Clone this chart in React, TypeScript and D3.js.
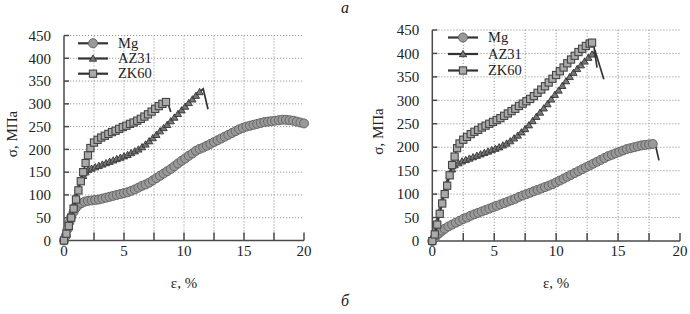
import React from "react";
import * as d3 from "d3";

type P = [number, number];

const xTicks = [0, 5, 10, 15, 20];
const xMinorTicks = [2.5, 5, 7.5, 10, 12.5, 15, 17.5, 20];
const yTicks = [0, 50, 100, 150, 200, 250, 300, 350, 400, 450];
const seriesNames = ["Mg", "AZ31", "ZK60"];

// Panel a
const mgA: P[] = [
  [0, 0], [0.15, 10], [0.3, 25], [0.45, 40], [0.6, 52], [0.8, 63], [1.0, 72], [1.2, 78], [1.45, 82], [1.7, 85],
  [2.0, 87], [2.3, 88], [2.6, 89], [2.9, 90], [3.2, 92], [3.5, 94], [3.8, 96], [4.1, 98], [4.4, 100], [4.7, 102],
  [5.0, 104], [5.3, 106], [5.6, 109], [5.9, 112], [6.2, 116], [6.5, 120], [6.8, 123], [7.1, 127], [7.4, 132], [7.7, 137],
  [8.0, 142], [8.3, 147], [8.6, 152], [8.9, 157], [9.2, 163], [9.5, 169], [9.8, 175], [10.1, 180], [10.4, 186], [10.7, 191],
  [11.0, 197], [11.3, 201], [11.6, 204], [11.9, 208], [12.2, 212], [12.5, 216], [12.8, 220], [13.1, 224], [13.4, 228], [13.7, 232],
  [14.0, 236], [14.3, 240], [14.6, 244], [14.9, 247], [15.2, 250], [15.5, 252], [15.8, 254], [16.1, 256], [16.4, 258], [16.7, 260],
  [17.0, 261], [17.3, 262], [17.6, 263], [17.9, 264], [18.2, 265], [18.5, 265], [18.8, 264], [19.1, 263], [19.4, 261], [19.7, 259],
  [20.0, 257],
];
const mgATail: P[] = [];
const az31A: P[] = [
  [0, 0], [0.2, 18], [0.4, 38], [0.6, 58], [0.8, 78], [1.0, 98], [1.2, 115], [1.4, 130], [1.6, 142], [1.8, 150],
  [2.0, 155], [2.3, 158], [2.6, 161], [2.9, 164], [3.2, 167], [3.5, 170], [3.8, 173], [4.1, 176], [4.4, 179], [4.7, 182],
  [5.0, 185], [5.3, 188], [5.6, 192], [5.9, 196], [6.2, 200], [6.5, 205], [6.8, 211], [7.1, 218], [7.4, 225], [7.7, 232],
  [8.0, 240], [8.3, 247], [8.6, 254], [8.9, 262], [9.2, 270], [9.5, 278], [9.8, 286], [10.1, 294], [10.4, 302], [10.7, 310],
  [11.0, 318], [11.3, 326],
];
const az31ATail: P[] = [[11.6, 333], [12.0, 288]];
const zk60A: P[] = [
  [0, 0], [0.2, 15], [0.4, 32], [0.6, 50], [0.8, 70], [1.0, 90], [1.2, 110], [1.4, 130], [1.6, 150], [1.8, 170],
  [2.0, 187], [2.2, 203], [2.5, 215], [2.8, 221], [3.1, 226], [3.4, 230], [3.7, 234], [4.0, 238], [4.3, 241], [4.6, 245],
  [4.9, 249], [5.2, 252], [5.5, 256], [5.8, 259], [6.1, 263], [6.4, 267], [6.7, 272], [7.0, 277], [7.3, 283], [7.6, 289],
  [7.9, 295], [8.2, 300], [8.5, 304],
];
const zk60ATail: P[] = [[8.6, 306], [8.9, 282]];

// Panel b
const mgB: P[] = [
  [0, 0], [0.2, 7], [0.4, 13], [0.6, 18], [0.8, 22], [1.0, 26], [1.3, 31], [1.6, 35], [1.9, 39], [2.2, 43],
  [2.5, 47], [2.8, 50], [3.1, 54], [3.4, 57], [3.7, 60], [4.0, 63], [4.3, 66], [4.6, 69], [4.9, 72], [5.2, 75],
  [5.5, 78], [5.8, 81], [6.1, 84], [6.4, 87], [6.7, 90], [7.0, 94], [7.3, 97], [7.6, 100], [7.9, 103], [8.2, 106],
  [8.5, 109], [8.8, 112], [9.1, 115], [9.4, 118], [9.7, 121], [10.0, 125], [10.3, 129], [10.6, 133], [10.9, 137], [11.2, 141],
  [11.5, 145], [11.8, 149], [12.1, 153], [12.4, 157], [12.7, 161], [13.0, 165], [13.3, 169], [13.6, 173], [13.9, 177], [14.2, 181],
  [14.5, 184], [14.8, 187], [15.1, 190], [15.4, 193], [15.7, 196], [16.0, 198], [16.3, 200], [16.6, 202], [16.9, 204], [17.2, 205],
  [17.5, 206], [17.8, 207],
];
const mgBTail: P[] = [[18.0, 207], [18.3, 172]];
const az31B: P[] = [
  [0, 0], [0.2, 20], [0.4, 42], [0.6, 64], [0.8, 86], [1.0, 106], [1.2, 124], [1.4, 140], [1.6, 153], [1.8, 162],
  [2.1, 166], [2.4, 170], [2.7, 173], [3.0, 176], [3.3, 179], [3.6, 182], [3.9, 185], [4.2, 188], [4.5, 191], [4.8, 194],
  [5.1, 197], [5.4, 200], [5.7, 204], [6.0, 208], [6.3, 213], [6.6, 219], [6.9, 225], [7.2, 232], [7.5, 239], [7.8, 247],
  [8.1, 256], [8.4, 265], [8.7, 274], [9.0, 283], [9.3, 292], [9.6, 302], [9.9, 312], [10.2, 321], [10.5, 331], [10.8, 341],
  [11.1, 350], [11.4, 359], [11.7, 367], [12.0, 375], [12.3, 383], [12.6, 391], [12.9, 398],
];
const az31BTail: P[] = [[13.15, 405], [13.85, 345]];
const zk60B: P[] = [
  [0, 0], [0.2, 14], [0.4, 35], [0.6, 58], [0.8, 80], [1.0, 100], [1.2, 118], [1.4, 140], [1.6, 162], [1.8, 180],
  [2.0, 198], [2.2, 208], [2.5, 216], [2.8, 222], [3.1, 228], [3.4, 233], [3.7, 237], [4.0, 242], [4.3, 246], [4.6, 250],
  [4.9, 254], [5.2, 258], [5.5, 262], [5.8, 267], [6.1, 272], [6.4, 277], [6.7, 282], [7.0, 288], [7.3, 293], [7.6, 298],
  [7.9, 303], [8.2, 309], [8.5, 316], [8.8, 323], [9.1, 330], [9.4, 338], [9.7, 346], [10.0, 354], [10.3, 362], [10.6, 370],
  [10.9, 379], [11.2, 387], [11.5, 395], [11.8, 403], [12.1, 410], [12.4, 416], [12.7, 421], [12.9, 423],
];
const zk60BTail: P[] = [[13.0, 424], [13.3, 370]];

const LINE = "#333";
const AXIS = "#4a4a4a";
const GRID = "#9a9a9a";
const TEXT = "#222";
const FONT = "'Liberation Serif', 'Times New Roman', 'DejaVu Serif', serif";

type PanelProps = {
  x0: number; x1: number; y0: number; y1: number;
  legendX: number; legendYs: number[];
  yLabelX: number;
  series: { pts: P[]; tail: P[]; kind: string }[];
};

function Marker({ kind, cx, cy }: { kind: string; cx: number; cy: number }) {
  if (kind === "circle") {
    return <circle cx={cx} cy={cy} r={4.5} fill="#999" stroke="#666" strokeWidth={1} />;
  }
  if (kind === "square") {
    return <rect x={cx - 3.6} y={cy - 3.6} width={7.2} height={7.2} fill="#aaa" stroke="#444" strokeWidth={1.1} />;
  }
  const s = 3.6;
  return (
    <path
      d={`M${cx},${cy - s} L${cx + s},${cy + s * 0.75} L${cx - s},${cy + s * 0.75} Z`}
      fill="#777"
      stroke="#333"
      strokeWidth={0.9}
    />
  );
}

function Panel(p: PanelProps) {
  const x = d3.scaleLinear().domain([0, 20]).range([p.x0, p.x1]);
  const y = d3.scaleLinear().domain([0, 450]).range([p.y0, p.y1]);
  const line = d3.line<P>().x((d) => x(d[0])).y((d) => y(d[1]));
  const xGrid = xMinorTicks.filter((v) => v < 20);
  const yGrid = yTicks.filter((v) => v > 0);
  return (
    <g>
      {xGrid.map((v) => (
        <line key={"gx" + v} x1={x(v)} x2={x(v)} y1={y(0)} y2={y(450)} stroke={GRID} strokeWidth={1} strokeDasharray="1.2,1.8" />
      ))}
      {yGrid.map((v) => (
        <line key={"gy" + v} x1={x(0)} x2={x(20)} y1={y(v)} y2={y(v)} stroke={GRID} strokeWidth={1} strokeDasharray="1.2,1.8" />
      ))}
      <line x1={x(0)} x2={x(0)} y1={y(0)} y2={y(450)} stroke={AXIS} strokeWidth={1.5} />
      <line x1={x(0)} x2={x(20)} y1={y(0)} y2={y(0)} stroke={AXIS} strokeWidth={1.5} />
      {yTicks.map((v) => (
        <line key={"ty" + v} x1={x(0)} x2={x(0) + 5} y1={y(v)} y2={y(v)} stroke={AXIS} strokeWidth={1.5} />
      ))}
      {xMinorTicks.map((v) => (
        <line key={"tx" + v} x1={x(v)} x2={x(v)} y1={y(0)} y2={y(0) - 8} stroke={AXIS} strokeWidth={1.5} />
      ))}
      {yTicks.map((v) => (
        <text key={"ly" + v} x={x(0) - 13} y={y(v)} dy="0.35em" textAnchor="end" fontSize={15} fill={TEXT} fontFamily={FONT}>
          {v}
        </text>
      ))}
      {xTicks.map((v) => (
        <text key={"lx" + v} x={x(v)} y={y(0) + 15} textAnchor="middle" fontSize={15} fill={TEXT} fontFamily={FONT}>
          {v}
        </text>
      ))}
      <text
        transform={`translate(${p.yLabelX},${(y(0) + y(450)) / 2 - 4}) rotate(-90)`}
        textAnchor="middle"
        dy="0.35em"
        fontSize={15}
        fill={TEXT}
        fontFamily={FONT}
      >
        σ, МПа
      </text>
      <text x={(x(0) + x(20)) / 2} y={288} textAnchor="middle" fontSize={15} fill={TEXT} fontFamily={FONT}>
        ε, %
      </text>
      {p.series.map((s, i) => (
        <g key={"s" + i}>
          <path d={line([...s.pts, ...s.tail]) || ""} fill="none" stroke={LINE} strokeWidth={1.7} />
          {s.pts.map((d, j) => (
            <Marker key={j} kind={s.kind} cx={x(d[0])} cy={y(d[1])} />
          ))}
        </g>
      ))}
      {p.series.map((s, i) => (
        <g key={"lg" + i}>
          <line x1={p.legendX} x2={p.legendX + 30} y1={p.legendYs[i]} y2={p.legendYs[i]} stroke={LINE} strokeWidth={2.2} />
          <Marker kind={s.kind} cx={p.legendX + 15} cy={p.legendYs[i]} />
          <text x={p.legendX + 40} y={p.legendYs[i]} dy="0.33em" fontSize={14.5} fill={TEXT} fontFamily={FONT}>
            {seriesNames[i]}
          </text>
        </g>
      ))}
    </g>
  );
}

export default function App() {
  return (
    <svg width={690} height={314} style={{ position: "absolute", left: 0, top: 0, background: "#fff" }}>
      <rect x={0} y={0} width={690} height={314} fill="#fff" />
      <text x={345} y={13} textAnchor="middle" fontSize={16} fontStyle="italic" fill={TEXT} fontFamily={FONT}>
        а
      </text>
      <Panel
        x0={64} x1={304} y0={240.5} y1={35.5}
        legendX={78} legendYs={[43.3, 58.5, 73.7]}
        yLabelX={12}
        series={[
          { pts: mgA, tail: mgATail, kind: "circle" },
          { pts: az31A, tail: az31ATail, kind: "triangle" },
          { pts: zk60A, tail: zk60ATail, kind: "square" },
        ]}
      />
      <Panel
        x0={432.3} x1={680} y0={241} y1={30}
        legendX={448} legendYs={[37.5, 54, 70.5]}
        yLabelX={378}
        series={[
          { pts: mgB, tail: mgBTail, kind: "circle" },
          { pts: az31B, tail: az31BTail, kind: "triangle" },
          { pts: zk60B, tail: zk60BTail, kind: "square" },
        ]}
      />
      <text x={345} y={306} textAnchor="middle" fontSize={16} fontStyle="italic" fill={TEXT} fontFamily={FONT}>
        б
      </text>
    </svg>
  );
}
